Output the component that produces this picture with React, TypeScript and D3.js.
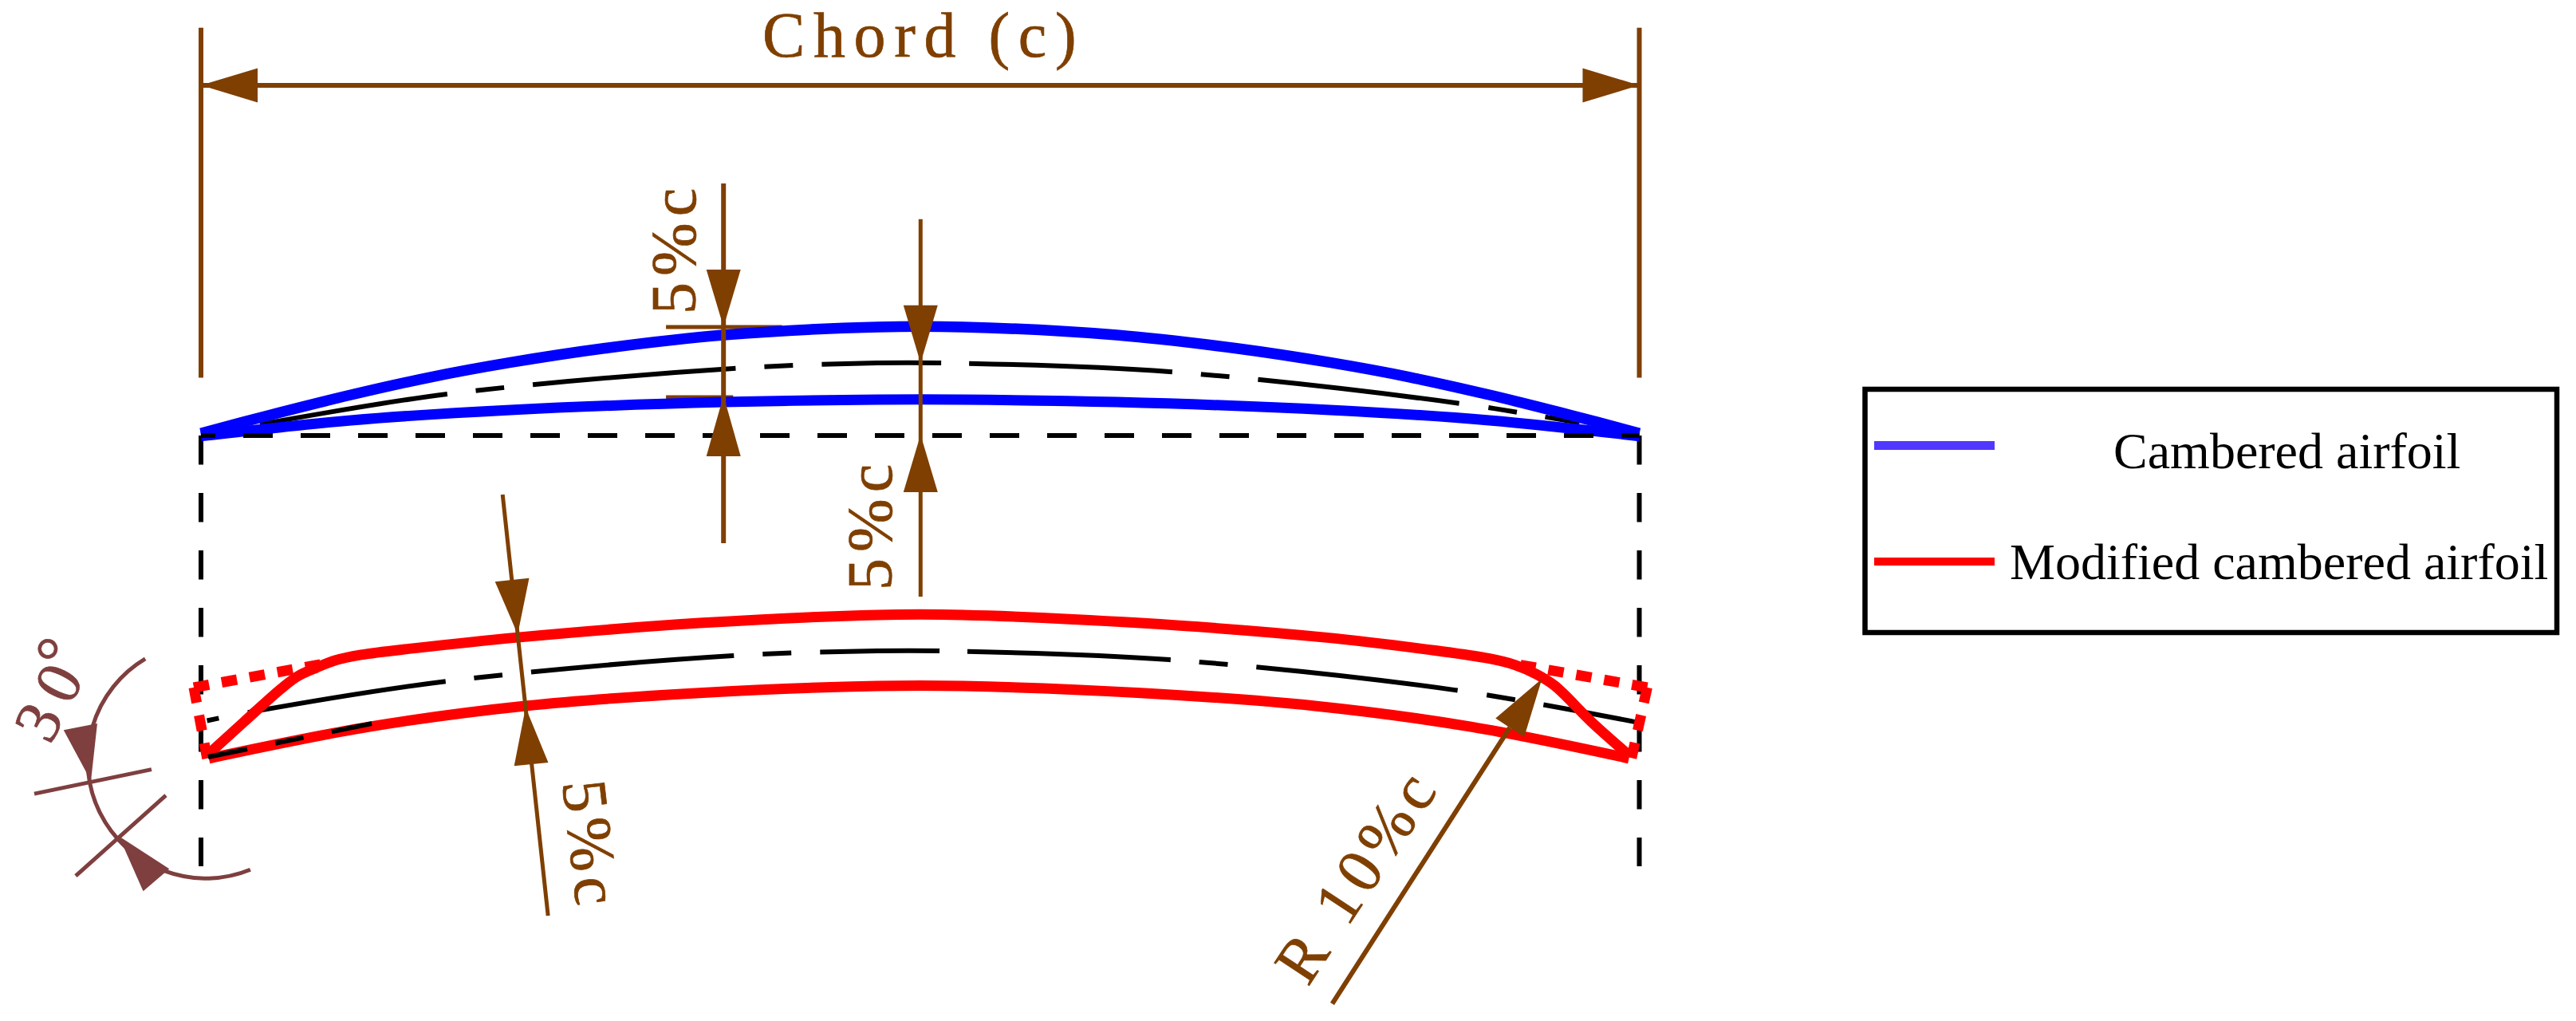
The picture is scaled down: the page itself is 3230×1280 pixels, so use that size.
import * as d3 from 'd3';

type Pt = [number, number];

// all geometry is in % of chord, measured from the leading edge and the chord line
const camberedUpper: Pt[] = [[0, 0.1], [4.88, 1.39], [10.43, 2.77], [15.97, 4.0], [21.52, 5.02], [28, 6.0], [36.33, 6.93], [47.03, 7.49], [52.97, 7.49], [63.67, 6.93], [72, 6.0], [78.48, 5.02], [84.03, 4.0], [89.57, 2.77], [95.12, 1.39], [100, 0.1]];
const camberedLower: Pt[] = [[0, -0.1], [10.43, 1.0], [21.52, 1.72], [36.33, 2.27], [47.03, 2.44], [52.97, 2.44], [63.67, 2.27], [78.48, 1.72], [89.57, 1.0], [100, -0.1]];
const camberedMean: Pt[] = [[4.1, 0.72], [17.14, 2.83], [36.99, 4.6], [47.03, 4.99], [51.3, 4.99], [67.33, 4.38], [87.19, 2.22], [95.84, 0.83]];

const modifiedUpper: Pt[] = [[0.44, -22.28], [2.99, -19.96], [5.6, -17.63], [6.71, -16.8], [8.04, -16.19], [9.31, -15.69], [11.14, -15.3], [14.86, -14.84], [22.02, -14.09], [34.66, -13.09], [47.03, -12.53], [52.97, -12.53], [65.34, -13.09], [78.15, -14.09], [85.81, -15.0], [89.52, -15.55], [91.35, -16.0], [92.85, -16.65], [94.12, -17.45], [96.67, -19.96], [99.28, -22.28]];
const modifiedLower: Pt[] = [[0.55, -22.5], [11.7, -20.3], [22.56, -18.85], [34.66, -17.95], [47.03, -17.47], [52.97, -17.47], [65.34, -17.95], [77.44, -18.85], [88.3, -20.3], [99.28, -22.5]];
const modifiedMean: Pt[] = [[0, -19.97], [3.33, -19.3], [17.08, -17.14], [36.99, -15.36], [47.03, -15.03], [51.3, -15.03], [67.33, -15.64], [87.19, -17.75], [99.72, -19.97]];
const lowerLeftMean: Pt[] = [[0.5, -22.4], [11.87, -20.08]];

// the sharp corners that were cut away, each leg starts at the corner
const cutLegs: Pt[][] = [
  [[-0.5, -17.57], [8.6, -15.91]],
  [[-0.5, -17.57], [0.44, -22.56]],
  [[100.55, -17.57], [91.5, -15.96]],
  [[100.55, -17.57], [99.44, -22.56]],
];

const meanDashes = [36, 36, 36, 255, 36, 36, 36, 150, 35, 255, 36, 36, 36, 254, 37, 36, 36];

// tip x, tip y, base x, base y
const brownArrows = [
  [0, 24.29, 3.94, 24.29],
  [100, 24.29, 96.06, 24.29],
  [36.33, 7.49, 36.33, 11.48],
  [36.33, 2.72, 36.33, -1.5],
  [50.03, 4.99, 50.03, 8.99],
  [50.03, 0, 50.03, -3.99],
  [22.02, -13.87, 21.63, -10.09],
  [22.57, -18.97, 22.96, -22.91],
  [93.23, -16.97, 91.0, -20.36],
];
const angleArrows = [
  [-7.65, -24.07, -8.38, -20.3],
  [-5.71, -27.9, -3.11, -30.95],
];

// x1, y1, x2, y2, stroke width
const brownLines = [
  [0, 24.29, 100, 24.29, 6],
  [0, 28.29, 0, 3.97, 6],
  [100, 28.29, 100, 3.97, 6],
  [36.33, 17.47, 36.33, -7.54, 6],
  [50.03, 14.98, 50.03, -11.26, 5],
  [20.97, -4.16, 24.13, -33.44, 5],
  [91.0, -20.36, 78.65, -39.55, 6],
];
const underBlueTicks = [
  [32.33, 7.49, 40.4, 7.49],
  [32.33, 2.61, 37, 2.61],
];
const angleTicks = [
  [-11.59, -24.96, -3.44, -23.27],
  [-8.71, -30.67, -2.44, -25.07],
];
const angleArc = { cx: 0.33, cy: -22.63, r: 8.21, from: 157.8, to: 329.2 };
const stationLines = [0, 100];
const stationSpan = [-0.05, -30];

const legendItems = ['Cambered airfoil', 'Modified cambered airfoil'];

const x = d3.scaleLinear().domain([0, 100]).range([252, 2055.5]);
const y = d3.scaleLinear().domain([0, 100]).range([545, -1258.5]);
const smooth = d3.line<Pt>().x(d => x(d[0])).y(d => y(d[1])).curve(d3.curveCatmullRom.alpha(0.5));
const straight = d3.line<Pt>().x(d => x(d[0])).y(d => y(d[1]));

const BROWN = '#7f3f00';
const MAROON = '#7f3f3f';
const FONT = '"Liberation Serif", serif';

const arrowHead = (a: number[], half = 21.5) => {
  const [tx, ty, bx, by] = [x(a[0]), y(a[1]), x(a[2]), y(a[3])];
  const len = Math.hypot(bx - tx, by - ty);
  const nx = (by - ty) / len;
  const ny = -(bx - tx) / len;
  return `M${tx},${ty}L${bx + nx * half},${by + ny * half}L${bx - nx * half},${by - ny * half}Z`;
};

const Dim = ({ t, px, py, rot, ls = 8 }: { t: string; px: number; py: number; rot: number; ls?: number }) => (
  <text transform={`translate(${px},${py}) rotate(${rot})`} fontFamily={FONT} fontSize={80} letterSpacing={ls} fill={BROWN} stroke={BROWN} strokeWidth={0.7}>{t}</text>
);

const App = () => {
  const radius = x(angleArc.r) - x(0);
  const arcPath = d3.arc()({
    innerRadius: radius,
    outerRadius: radius,
    startAngle: (angleArc.from * Math.PI) / 180,
    endAngle: (angleArc.to * Math.PI) / 180,
  } as any) as string;

  return (
    <svg width={3230} height={1280} style={{ position: 'absolute', left: 0, top: 0, background: '#fff' }}>
      {/* stations at leading and trailing edge */}
      {stationLines.map(s => (
        <line key={s} x1={x(s)} x2={x(s)} y1={y(stationSpan[0])} y2={y(stationSpan[1])} stroke="#000" strokeWidth={6} strokeDasharray="36.7 35.3" />
      ))}

      <path d={smooth(camberedMean) as string} fill="none" stroke="#000" strokeWidth={6} strokeDasharray={[238, ...meanDashes, 60].join(' ')} />
      <path d={smooth(modifiedMean) as string} fill="none" stroke="#000" strokeWidth={6} strokeDasharray={[0, 8, 15, 37, 251, ...meanDashes, 130].join(' ')} />

      {underBlueTicks.map((l, i) => (
        <line key={i} x1={x(l[0])} y1={y(l[1])} x2={x(l[2])} y2={y(l[3])} stroke={BROWN} strokeWidth={5} />
      ))}

      <path d={smooth(camberedUpper) as string} fill="none" stroke="#0000ff" strokeWidth={13.5} />
      <path d={smooth(camberedLower) as string} fill="none" stroke="#0000ff" strokeWidth={13} />

      <line x1={x(0)} x2={x(100)} y1={y(-0.05)} y2={y(-0.05)} stroke="#000" strokeWidth={6} strokeDasharray="37 35" strokeDashoffset={19} />

      {cutLegs.map((leg, i) => (
        <path key={i} d={straight(leg) as string} fill="none" stroke="#ff0000" strokeWidth={13} strokeDasharray="19.5 16" />
      ))}
      <path d={smooth(modifiedUpper) as string} fill="none" stroke="#ff0000" strokeWidth={13} />
      <path d={smooth(modifiedLower) as string} fill="none" stroke="#ff0000" strokeWidth={13} />
      <path d={straight(lowerLeftMean) as string} fill="none" stroke="#000" strokeWidth={6} strokeDasharray="50 36 36 36 52" />

      {brownLines.map((l, i) => (
        <line key={i} x1={x(l[0])} y1={y(l[1])} x2={x(l[2])} y2={y(l[3])} stroke={BROWN} strokeWidth={l[4]} />
      ))}
      {brownArrows.map((a, i) => <path key={i} d={arrowHead(a)} fill={BROWN} />)}

      {/* angle of the cut */}
      <path d={arcPath} transform={`translate(${x(angleArc.cx)},${y(angleArc.cy)})`} fill="none" stroke={MAROON} strokeWidth={5} />
      {angleTicks.map((l, i) => (
        <line key={i} x1={x(l[0])} y1={y(l[1])} x2={x(l[2])} y2={y(l[3])} stroke={MAROON} strokeWidth={5} />
      ))}
      {angleArrows.map((a, i) => <path key={i} d={arrowHead(a)} fill={MAROON} />)}

      <Dim t="Chord (c)" px={956} py={71} rot={0} ls={10.6} />
      <Dim t="5%c" px={872} py={394} rot={-90} />
      <Dim t="5%c" px={1118} py={740} rot={-90} />
      <Dim t="5%c" px={705} py={981} rot={83.5} ls={7.5} />
      <Dim t="R 10%c" px={1640} py={1238} rot={-56.5} />
      <text transform="translate(63,935) rotate(-63)" fontFamily={FONT} fontSize={80} letterSpacing={15} fill={MAROON} stroke={MAROON} strokeWidth={0.7}>
        30<tspan dx={-19} dy={-17}>°</tspan>
      </text>

      {/* legend */}
      <rect x={2338.5} y={488} width={867.5} height={305} fill="none" stroke="#000" strokeWidth={6.5} />
      <rect x={2350} y={553} width={151} height={11} fill="#5038ff" />
      <rect x={2350} y={699} width={151} height={10} fill="#ff0000" />
      <text x={2650} y={587} fontFamily={FONT} fontSize={64} fill="#000">{legendItems[0]}</text>
      <text x={2520} y={726} fontFamily={FONT} fontSize={64} fill="#000">{legendItems[1]}</text>
    </svg>
  );
};

export default App;
